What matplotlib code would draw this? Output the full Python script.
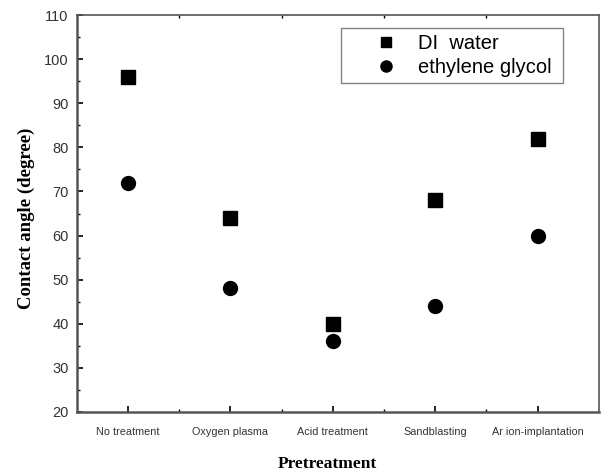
import matplotlib.pyplot as plt
from matplotlib.ticker import MultipleLocator, FixedLocator

# data
treatments = ['No treatment', 'Oxygen plasma', 'Acid treatment', 'Sandblasting', 'Ar ion-implantation']
di_water = [96, 64, 40, 68, 82]
ethylene_glycol = [72, 48, 36, 44, 60]

x = list(range(1, len(treatments) + 1))

fig = plt.figure(figsize=(6.05, 4.74), dpi=100)
ax = fig.add_axes([0.127, 0.131, 0.863, 0.837])

ax.plot(x, di_water, 's', color='black', markersize=9.5, label='DI  water ')
ax.plot(x, ethylene_glycol, 'o', color='black', markersize=10, label='ethylene glycol ')

ax.set_xlim(0.5, 5.6)
ax.set_ylim(20, 110)
ax.set_xticks(x)
ax.set_xticklabels(treatments, fontsize=7.8, family='Liberation Sans', color='#333333')
ax.xaxis.set_minor_locator(FixedLocator([1.5, 2.5, 3.5, 4.5]))
ax.yaxis.set_major_locator(MultipleLocator(10))
ax.yaxis.set_minor_locator(MultipleLocator(5))
ax.tick_params(axis='y', labelsize=10.5, labelcolor='#333333', pad=6)
for lbl in ax.get_yticklabels():
    lbl.set_family('Liberation Sans')

ax.tick_params(which='major', direction='in', length=4, width=1.2, top=False, right=False)
ax.tick_params(which='minor', direction='in', length=2.5, width=1, right=False)
ax.tick_params(axis='x', which='minor', top=True)
ax.tick_params(axis='x', which='major', pad=11)

for side in ['left', 'bottom']:
    ax.spines[side].set_linewidth(1.8)
    ax.spines[side].set_color('#555555')
for side in ['top', 'right']:
    ax.spines[side].set_linewidth(1.2)
    ax.spines[side].set_color('#555555')

ax.set_xlabel('Pretreatment', family='Liberation Serif', fontweight='bold', fontsize=12.5)
ax.set_ylabel('Contact angle (degree)', family='Liberation Serif', fontweight='bold', fontsize=13.5)
ax.xaxis.set_label_coords(0.479, -0.112)
ax.yaxis.set_label_coords(-0.08, 0.487)

leg = ax.legend(loc='upper right', bbox_to_anchor=(0.931, 0.967), borderaxespad=0,
                fancybox=False, edgecolor='#666666',
                prop={'family': 'Liberation Sans', 'size': 14.5},
                handlelength=3.9, handletextpad=-0.37, borderpad=0.3, labelspacing=0.25,
                markerscale=0.8)
leg.get_frame().set_linewidth(1.0)

fig.savefig('out.png', dpi=100)
